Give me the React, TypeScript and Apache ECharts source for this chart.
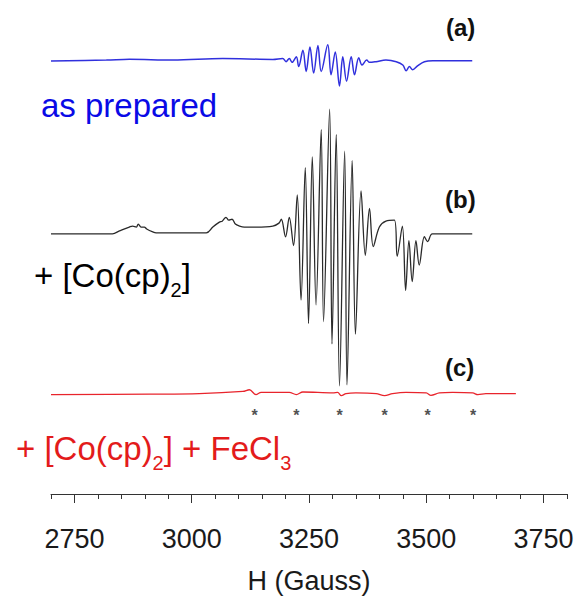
import React, { useEffect, useRef } from "react";
import * as echarts from "echarts";

// Axis (magnetic field, Gauss)
const FIELD_MIN = 2700;
const FIELD_MAX = 3800;
const MAJOR_TICKS = [2750, 3000, 3250, 3500, 3750];
const MINOR_TICKS = [
  2700, 2750, 2800, 2850, 2900, 2950, 3000, 3050, 3100, 3150, 3200, 3250,
  3300, 3350, 3400, 3450, 3500, 3550, 3600, 3650, 3700, 3750, 3800,
];

// (a) as prepared — field (G) and derivative intensity (a.u.)
const A_H = [
  2700, 2818, 2867, 2960, 3066, 3173, 3194, 3201, 3208, 3214, 3223, 3228, 3237,
  3244, 3252, 3260, 3269, 3276, 3290, 3297, 3306, 3315, 3322, 3330, 3340, 3347,
  3356, 3363, 3373, 3379, 3393, 3414, 3436, 3450, 3457, 3464, 3471, 3482, 3496,
  3514, 3592, 3598,
];
const A_I = [
  -0.7, 0.3, 1.3, 0.3, 2, 1, 2, -1.3, 2, -2, 3.7, -6.3, 10.3, -11.3, 13.7, -13,
  15.3, -11.3, 16, -14.7, 8.7, -26.3, 3.7, -21.3, 3.7, -14.7, 2.7, -4.7, 0.3,
  -2, -1.3, 0.3, -1.3, -4.7, -10.7, -6.3, -9.7, -5.3, -1.3, -0.3, -0.3, -0.3,
];

// (b) + [Co(cp)2]
const B_H = [
  2700, 2831, 2846, 2867, 2874, 2882, 2886, 2892, 2899, 2904, 2917, 2924, 3031,
  3045, 3059, 3065, 3073, 3079, 3086, 3093, 3102, 3112, 3137, 3173, 3186, 3191,
  3200, 3208, 3217, 3225, 3233, 3242, 3249, 3257, 3265, 3276, 3281, 3294, 3299,
  3308, 3315, 3326, 3331, 3342, 3349, 3361, 3370, 3379, 3387, 3400, 3414, 3432,
  3438, 3449, 3456, 3463, 3470, 3478, 3485, 3496, 3503, 3513, 3598,
];
const B_I = [
  0, 0, 3, 7, 8, 7, 10, 7, 7, 5, 2, 1, 1, 7, 12, 13, 17, 14, 15, 10, 8, 7, 7, 8,
  11, 15, -3, 17, -12, 40, -68, 68, -92, 79, -73, 107, -90, 128, -113, 102,
  -156, 85, -155, 75, -103, 44, -22, 26, -13, 7, 13, 14, -23, 8, -58, -7, -49,
  -7, -32, -3, -8, 0, 0,
];

// (c) + [Co(cp)2] + FeCl3
const C_H = [
  2700, 2910, 3016, 3109, 3123, 3137, 3148, 3208, 3223, 3237, 3301, 3311, 3319,
  3329, 3350, 3393, 3411, 3428, 3457, 3500, 3510, 3528, 3556, 3599, 3610, 3627,
  3691,
];
const C_I = [
  -1, -0.5, 0, 2.3, 4, -1, 1.3, 1.3, -1, 1.7, 0.7, 1.3, -2, 0, 0.7, 0, -2, 0,
  1.3, 0.7, -1.7, 0.7, 1.3, 0.7, -1, 0, 0,
];

// Marked lines (*) under trace (c)
const STAR_H = [3134, 3223, 3315, 3411, 3503, 3600];

// vertical stacking offsets of the traces (a.u.)
const Y_MAX = 507;
const OFFSET_A = 445;
const OFFSET_B = 267;
const OFFSET_C = 103;
const STAR_LEVEL = 81;

const LABEL_A = "as prepared";
const LABEL_B = "{m|+ [Co(cp)}{sub|2}{m|]}";
const LABEL_C = "{m|+ [Co(cp)}{sub|2}{m|] + FeCl}{sub|3}";

const FONT = "'Liberation Sans', Arial, sans-serif";

function toSeries(h: number[], v: number[], off: number) {
  return h.map((x, i) => [x, off + v[i]]);
}

export default function App() {
  const ref = useRef<HTMLDivElement>(null);
  useEffect(() => {
    if (!ref.current) return;
    const chart = echarts.init(ref.current, null, { renderer: "svg" });
    const richMain = (color: string) => ({
      m: { fontSize: 33, lineHeight: 48, fontFamily: FONT, fill: color, color },
      sub: {
        fontSize: 20,
        lineHeight: 11,
        verticalAlign: "bottom",
        fontFamily: FONT,
        fill: color,
        color,
      },
    });
    chart.setOption({
      animation: false,
      backgroundColor: "#ffffff",
      grid: { left: 51, right: 10, top: 0, bottom: 599 - Y_MAX, containLabel: false },
      xAxis: [
        {
          type: "value",
          position: "bottom",
          min: FIELD_MIN,
          max: FIELD_MAX,
          splitLine: { show: false },
          axisLine: { show: true, lineStyle: { color: "#333", width: 1 } },
          axisTick: {
            show: true,
            length: 9,
            customValues: MAJOR_TICKS,
            lineStyle: { color: "#333", width: 1 },
          },
          axisLabel: {
            show: true,
            customValues: MAJOR_TICKS,
            formatter: (v: number) => String(v),
            margin: 31,
            fontSize: 27,
            fontFamily: FONT,
            color: "#1a1a1a",
            showMinLabel: true,
            showMaxLabel: true,
          },
          name: "H (Gauss)",
          nameLocation: "middle",
          nameGap: 73,
          nameTextStyle: { fontSize: 27, fontFamily: FONT, color: "#1a1a1a" },
        },
        {
          type: "value",
          position: "bottom",
          min: FIELD_MIN,
          max: FIELD_MAX,
          splitLine: { show: false },
          axisLine: { show: false },
          axisTick: {
            show: true,
            length: 5,
            customValues: MINOR_TICKS,
            lineStyle: { color: "#333", width: 1 },
          },
          axisLabel: { show: false },
        },
      ],
      yAxis: { type: "value", min: 0, max: Y_MAX, show: false },
      series: [
        {
          type: "line",
          data: toSeries(A_H, A_I, OFFSET_A),
          showSymbol: false,
          smooth: 0.35,
          lineStyle: { color: "#3030dd", width: 1.5 },
        },
        {
          type: "line",
          data: toSeries(B_H, B_I, OFFSET_B),
          showSymbol: false,
          smooth: 0.35,
          lineStyle: { color: "#2a2a2a", width: 1.3 },
        },
        {
          type: "line",
          data: toSeries(C_H, C_I, OFFSET_C),
          showSymbol: false,
          smooth: 0.35,
          lineStyle: { color: "#e8242c", width: 1.3 },
        },
        {
          type: "scatter",
          data: STAR_H.map((h) => [h, STAR_LEVEL]),
          symbolSize: 1,
          itemStyle: { color: "rgba(0,0,0,0)" },
          label: {
            show: true,
            formatter: "*",
            position: "inside",
            fontSize: 16,
            fontWeight: "bold",
            fontFamily: FONT,
            color: "#222",
          },
        },
      ],
      graphic: [
        {
          type: "text",
          x: 446,
          y: 27,
          style: {
            text: "(a)",
            fontSize: 24,
            fontWeight: "bold",
            fontFamily: FONT,
            fill: "#111",
            verticalAlign: "middle",
          },
        },
        {
          type: "text",
          x: 445,
          y: 199,
          style: {
            text: "(b)",
            fontSize: 24,
            fontWeight: "bold",
            fontFamily: FONT,
            fill: "#111",
            verticalAlign: "middle",
          },
        },
        {
          type: "text",
          x: 445,
          y: 367,
          style: {
            text: "(c)",
            fontSize: 24,
            fontWeight: "bold",
            fontFamily: FONT,
            fill: "#111",
            verticalAlign: "middle",
          },
        },
        {
          type: "text",
          x: 41,
          y: 105.6,
          style: {
            text: LABEL_A,
            fontSize: 33,
            fontFamily: FONT,
            fill: "#0a0ae6",
            verticalAlign: "middle",
          },
        },
        {
          type: "text",
          x: 34,
          y: 251.6,
          style: {
            text: LABEL_B,
            rich: richMain("#000000"),
            fontSize: 33,
            fontFamily: FONT,
            fill: "#000000",
            verticalAlign: "top",
          },
        },
        {
          type: "text",
          x: 16,
          y: 424.6,
          style: {
            text: LABEL_C,
            rich: richMain("#e31b1b"),
            fontSize: 33,
            fontFamily: FONT,
            fill: "#e31b1b",
            verticalAlign: "top",
          },
        },
      ],
    });
    return () => chart.dispose();
  }, []);
  return (
    <div
      ref={ref}
      style={{ position: "fixed", left: 0, top: 0, width: 577, height: 599 }}
    />
  );
}
